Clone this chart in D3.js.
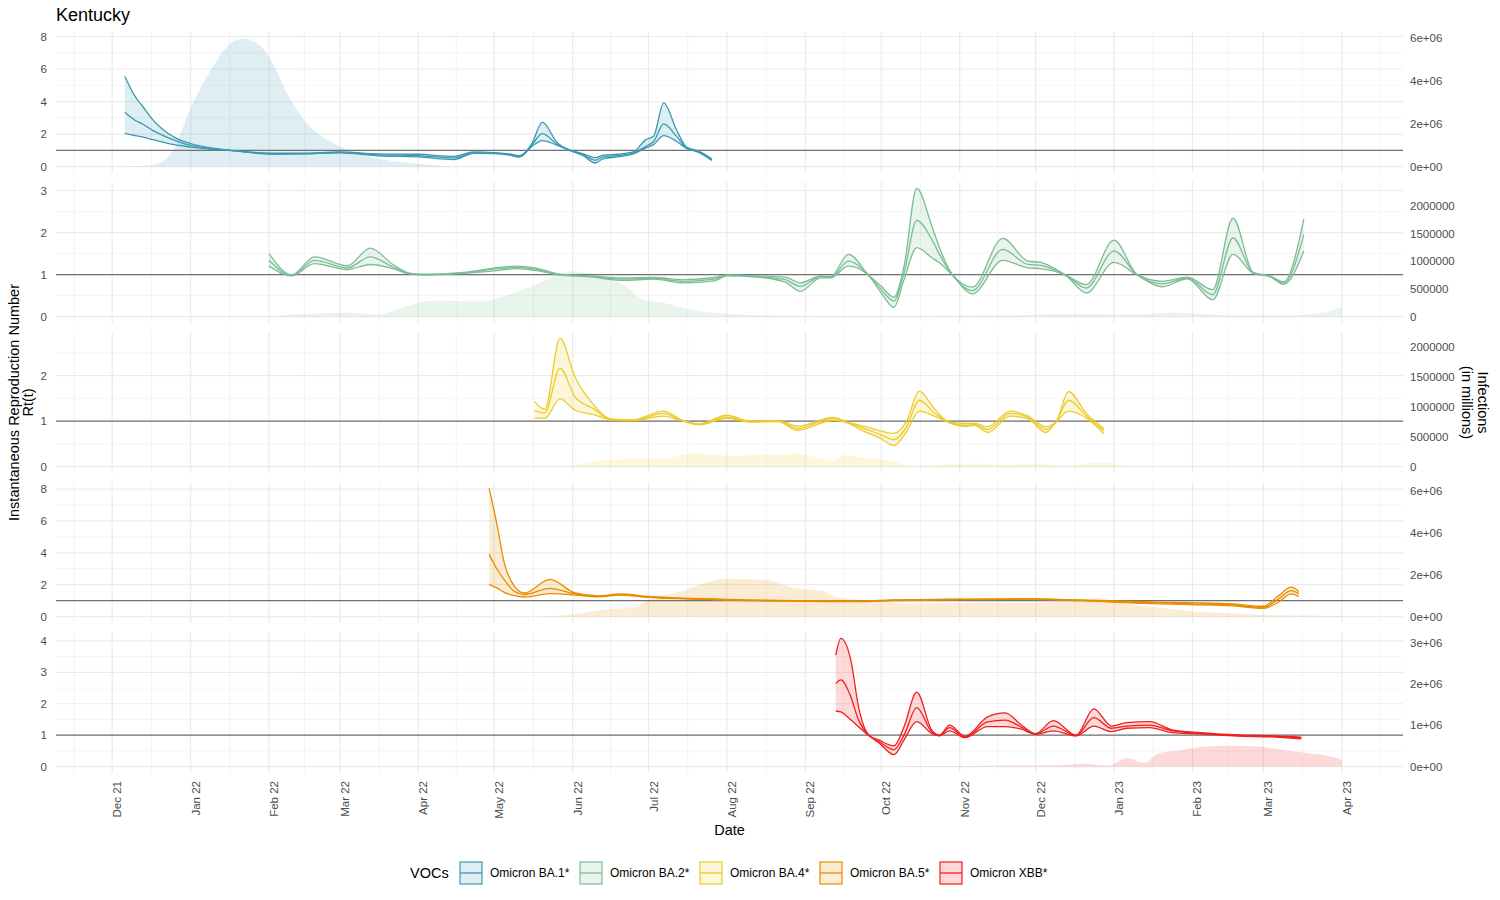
<!DOCTYPE html>
<html lang="en">
<head>
<meta charset="utf-8">
<title>Kentucky - Rt(t) by VOC</title>
<script src="https://d3js.org/d3.v7.min.js"></script>
<style>
  body { margin: 0; background: #fff; font-family: "Liberation Sans", Arial, sans-serif; }
  .tick { font-size: 11.5px; fill: #4d4d4d; }
  .title { font-size: 18px; fill: #000; }
  .axis-title { font-size: 14.5px; fill: #000; }
  .legend-label { font-size: 12px; fill: #000; }
</style>
</head>
<body>
<div id="canvas"></div>
<script>
// ---- data ----
var vocs = ["Omicron BA.1*", "Omicron BA.2*", "Omicron BA.4*", "Omicron BA.5*", "Omicron XBB*"];

// BA.1
var ba1Dates = ["2021-12-06","2021-12-10","2021-12-13","2021-12-17","2021-12-21","2021-12-26","2022-01-01","2022-01-08","2022-01-17","2022-02-02","2022-02-15","2022-03-01","2022-03-16","2022-04-01","2022-04-15","2022-04-23","2022-05-01","2022-05-07","2022-05-11","2022-05-16","2022-05-20","2022-05-26","2022-05-31","2022-06-05","2022-06-10","2022-06-13","2022-06-19","2022-06-25","2022-06-30","2022-07-03","2022-07-07","2022-07-12","2022-07-16","2022-07-21","2022-07-26"];
var ba1Lower  = [2.05,1.91,1.83,1.66,1.5,1.33,1.2,1.08,0.98,0.76,0.78,0.84,0.66,0.6,0.43,0.82,0.8,0.7,0.58,1.25,1.6,1.3,0.98,0.68,0.22,0.48,0.6,0.78,1.15,1.35,1.91,1.56,1.12,0.86,0.38];
var ba1Median = [3.34,2.85,2.62,2.23,1.92,1.6,1.3,1.13,1.0,0.8,0.8,0.87,0.72,0.68,0.53,0.86,0.83,0.74,0.63,1.35,2.03,1.35,1.0,0.74,0.39,0.6,0.68,0.84,1.25,1.54,2.63,1.87,1.15,0.9,0.43];
var ba1Upper  = [5.56,4.33,3.71,2.89,2.28,1.77,1.42,1.18,1.0,0.83,0.82,0.9,0.78,0.76,0.63,0.9,0.86,0.78,0.68,1.45,2.73,1.45,1.02,0.8,0.55,0.7,0.76,0.9,1.66,1.87,3.92,2.28,1.2,0.94,0.48];
var ba1InfDates = ["2021-12-03","2021-12-16","2021-12-22","2021-12-26","2021-12-31","2022-01-05","2022-01-10","2022-01-15","2022-01-19","2022-01-22","2022-01-27","2022-01-31","2022-02-04","2022-02-08","2022-02-12","2022-02-17","2022-02-22","2022-03-01","2022-03-09","2022-03-18","2022-04-01","2022-04-14","2022-04-25"];
var ba1Inf = [0,60000,330000,950000,2430000,3680000,4690000,5550000,5900000,5990000,5780000,5320000,4450000,3440000,2660000,1880000,1420000,950000,560000,330000,130000,15000,0];

// BA.2
var ba2Dates = ["2022-02-01","2022-02-10","2022-02-19","2022-03-04","2022-03-13","2022-03-22","2022-03-29","2022-04-05","2022-04-19","2022-05-03","2022-05-10","2022-05-17","2022-05-27","2022-06-07","2022-06-21","2022-07-03","2022-07-15","2022-07-27","2022-08-01","2022-08-13","2022-08-24","2022-08-30","2022-09-07","2022-09-11","2022-09-18","2022-09-26","2022-10-01","2022-10-06","2022-10-10","2022-10-15","2022-10-21","2022-10-24","2022-10-29","2022-11-06","2022-11-18","2022-11-28","2022-12-03","2022-12-13","2022-12-21","2023-01-01","2023-01-10","2023-01-20","2023-01-30","2023-02-09","2023-02-17","2023-02-25","2023-03-04","2023-03-09","2023-03-17"];
var ba2Lower  = [1.2,0.97,1.26,1.12,1.24,1.14,1.01,0.99,1.03,1.1,1.14,1.1,0.99,0.95,0.86,0.89,0.8,0.85,0.97,0.94,0.82,0.6,0.92,0.92,1.2,0.97,0.56,0.22,0.88,1.64,1.4,1.28,0.99,0.54,1.34,1.16,1.14,0.97,0.56,1.29,0.99,0.71,0.9,0.4,1.48,1.03,0.94,0.77,1.56];
var ba2Median = [1.34,0.98,1.34,1.16,1.42,1.18,1.02,1.0,1.04,1.14,1.17,1.13,1.0,0.96,0.89,0.91,0.84,0.89,0.98,0.95,0.88,0.72,0.95,0.93,1.32,0.98,0.64,0.37,1.04,2.29,1.83,1.48,1.0,0.62,1.6,1.24,1.22,0.98,0.68,1.56,1.0,0.78,0.92,0.52,1.87,1.04,0.95,0.8,1.95];
var ba2Upper  = [1.5,0.99,1.42,1.21,1.63,1.24,1.03,1.01,1.05,1.17,1.2,1.16,1.01,0.97,0.92,0.93,0.88,0.93,0.99,0.97,0.94,0.8,0.97,0.95,1.48,0.99,0.72,0.46,1.2,3.05,2.15,1.64,1.01,0.7,1.86,1.32,1.29,0.99,0.76,1.82,1.01,0.84,0.94,0.64,2.34,1.05,0.96,0.83,2.32];
var ba2InfDates = ["2022-02-01","2022-03-04","2022-03-16","2022-03-25","2022-04-01","2022-04-08","2022-04-25","2022-05-03","2022-05-17","2022-05-27","2022-06-01","2022-06-07","2022-06-14","2022-06-22","2022-06-29","2022-07-07","2022-07-15","2022-08-01","2022-08-30","2022-09-26","2022-10-20","2022-11-20","2022-12-17","2023-01-10","2023-01-25","2023-02-15","2023-03-10","2023-03-25","2023-04-01"];
var ba2Inf = [8000,68000,38000,152000,251000,289000,274000,342000,570000,775000,821000,783000,722000,547000,304000,251000,152000,53000,15000,8000,15000,23000,53000,38000,68000,23000,23000,76000,167000];

// BA.4
var ba4Dates = ["2022-05-17","2022-05-21","2022-05-27","2022-06-02","2022-06-09","2022-06-16","2022-06-25","2022-07-07","2022-07-14","2022-07-21","2022-08-01","2022-08-10","2022-08-21","2022-08-29","2022-09-12","2022-09-17","2022-09-24","2022-10-01","2022-10-06","2022-10-11","2022-10-16","2022-10-22","2022-10-28","2022-11-03","2022-11-07","2022-11-12","2022-11-21","2022-11-28","2022-12-05","2022-12-09","2022-12-14","2022-12-21","2022-12-28"];
var ba4Lower  = [1.07,1.06,1.49,1.24,1.15,1.03,1.01,1.11,1.01,0.92,1.06,0.98,0.99,0.8,1.02,0.97,0.78,0.61,0.46,0.77,1.22,1.11,0.96,0.88,0.91,0.75,1.11,1.05,0.75,0.97,1.22,1.07,0.72];
var ba4Median = [1.23,1.18,2.16,1.53,1.28,1.04,1.02,1.17,1.02,0.93,1.09,0.99,1.0,0.84,1.06,0.98,0.84,0.7,0.59,0.88,1.46,1.18,0.97,0.91,0.93,0.82,1.17,1.08,0.82,0.98,1.46,1.12,0.79];
var ba4Upper  = [1.43,1.26,2.82,1.96,1.38,1.05,1.03,1.22,1.03,0.94,1.13,1.0,1.01,0.89,1.08,0.99,0.89,0.78,0.73,1.0,1.66,1.27,0.98,0.95,0.95,0.88,1.22,1.11,0.88,0.99,1.65,1.17,0.84];
var ba4InfDates = ["2022-05-21","2022-06-01","2022-06-09","2022-06-16","2022-06-25","2022-07-07","2022-07-18","2022-07-27","2022-08-06","2022-08-13","2022-08-21","2022-08-29","2022-09-05","2022-09-12","2022-09-17","2022-09-25","2022-10-01","2022-10-08","2022-10-13","2022-10-25","2022-11-05","2022-11-20","2022-12-01","2022-12-12","2022-12-28","2023-01-05","2023-01-10"];
var ba4Inf = [0,23000,91000,114000,122000,129000,220000,198000,175000,205000,190000,220000,152000,91000,198000,137000,122000,61000,8000,30000,53000,30000,46000,15000,68000,15000,0];

// BA.5
var ba5Dates = ["2022-04-29","2022-05-02","2022-05-05","2022-05-09","2022-05-13","2022-05-23","2022-06-02","2022-06-11","2022-06-20","2022-07-01","2022-07-18","2022-08-09","2022-08-31","2022-09-22","2022-10-05","2022-11-04","2022-11-27","2022-12-19","2023-01-09","2023-01-31","2023-02-17","2023-03-01","2023-03-07","2023-03-12","2023-03-15"];
var ba5Lower  = [2.0,1.8,1.52,1.31,1.23,1.44,1.35,1.24,1.35,1.2,1.1,1.0,0.96,0.94,1.0,1.06,1.08,1.0,0.85,0.75,0.67,0.52,0.9,1.42,1.27];
var ba5Median = [3.9,3.0,2.3,1.58,1.38,1.77,1.42,1.27,1.38,1.23,1.12,1.02,0.98,0.96,1.02,1.08,1.1,1.02,0.9,0.81,0.73,0.58,1.1,1.63,1.44];
var ba5Upper  = [8.04,5.85,3.35,1.9,1.48,2.33,1.48,1.3,1.42,1.26,1.14,1.04,1.0,0.98,1.04,1.1,1.12,1.04,0.95,0.87,0.79,0.65,1.3,1.85,1.58];
var ba5InfDates = ["2022-05-20","2022-06-01","2022-06-16","2022-06-25","2022-07-01","2022-07-14","2022-07-25","2022-07-31","2022-08-09","2022-08-18","2022-08-24","2022-09-02","2022-09-07","2022-09-13","2022-09-22","2022-10-01","2022-10-10","2022-11-05","2022-11-27","2022-12-14","2022-12-27","2023-01-05","2023-01-20","2023-01-31","2023-02-17","2023-03-04","2023-03-28","2023-04-01"];
var ba5Inf = [0,99000,365000,410000,806000,1200000,1672000,1809000,1786000,1725000,1474000,1284000,1254000,935000,806000,722000,616000,646000,646000,730000,889000,616000,410000,251000,144000,61000,46000,38000];

// XBB
var xbbDates = ["2022-09-13","2022-09-15","2022-09-19","2022-09-22","2022-09-26","2022-09-30","2022-10-06","2022-10-10","2022-10-15","2022-10-21","2022-10-24","2022-10-28","2022-11-03","2022-11-12","2022-11-19","2022-11-25","2022-12-01","2022-12-08","2022-12-17","2022-12-24","2022-12-31","2023-01-06","2023-01-15","2023-01-24","2023-02-04","2023-02-19","2023-03-06","2023-03-16"];
var xbbLower  = [1.77,1.74,1.48,1.27,0.99,0.76,0.38,0.85,1.43,1.05,0.98,1.14,0.92,1.27,1.27,1.2,1.03,1.14,0.98,1.29,1.11,1.22,1.24,1.08,1.04,0.97,0.94,0.88];
var xbbMedian = [2.64,2.76,2.21,1.48,1.0,0.8,0.54,1.0,1.88,1.1,0.99,1.24,0.94,1.42,1.48,1.27,1.04,1.29,0.99,1.56,1.22,1.29,1.32,1.14,1.06,0.99,0.96,0.91];
var xbbUpper  = [3.55,4.08,3.37,1.9,1.01,0.85,0.66,1.27,2.37,1.15,1.0,1.32,0.96,1.58,1.71,1.35,1.05,1.46,1.0,1.84,1.29,1.4,1.43,1.17,1.08,1.01,0.98,0.94];
var xbbInfDates = ["2022-09-13","2022-10-15","2022-11-15","2022-12-10","2022-12-20","2022-12-30","2023-01-06","2023-01-13","2023-01-19","2023-01-27","2023-02-04","2023-02-16","2023-02-27","2023-03-06","2023-03-18","2023-03-27","2023-04-01"];
var xbbInf = [0,8000,23000,30000,68000,23000,205000,91000,327000,388000,471000,502000,486000,426000,327000,251000,167000];

// axis ticks per panel
var leftTicks = [[0,2,4,6,8],[0,1,2,3],[0,1,2],[0,2,4,6,8],[0,1,2,3,4]];
var rightTicks = [[0,2e6,4e6,6e6],[0,5e5,1e6,1.5e6,2e6],[0,5e5,1e6,1.5e6,2e6],[0,2e6,4e6,6e6],[0,1e6,2e6,3e6]];
var rightLabels = [
    ["0e+00","2e+06","4e+06","6e+06"],
    ["0","500000","1000000","1500000","2000000"],
    ["0","500000","1000000","1500000","2000000"],
    ["0e+00","2e+06","4e+06","6e+06"],
    ["0e+00","1e+06","2e+06","3e+06"]
];

// secondary axis: infections = Rt * K
var K = 760000;

// ---- styles ----
var colors = ["#3B9AB2", "#7DBD96", "#EBCC2A", "#EA8C00", "#F21E1E"];
var fillOpacity = 0.17;

var parse = d3.timeParse("%Y-%m-%d");

function pack(dates, lo, med, hi, infDates, inf) {
    return {
        rt: dates.map(function(d, i) { return {date: parse(d), lo: lo[i], med: med[i], hi: hi[i]}; }),
        inf: infDates.map(function(d, i) { return {date: parse(d), v: inf[i]}; })
    };
}

var panels = [
    pack(ba1Dates, ba1Lower, ba1Median, ba1Upper, ba1InfDates, ba1Inf),
    pack(ba2Dates, ba2Lower, ba2Median, ba2Upper, ba2InfDates, ba2Inf),
    pack(ba4Dates, ba4Lower, ba4Median, ba4Upper, ba4InfDates, ba4Inf),
    pack(ba5Dates, ba5Lower, ba5Median, ba5Upper, ba5InfDates, ba5Inf),
    pack(xbbDates, xbbLower, xbbMedian, xbbUpper, xbbInfDates, xbbInf)
];

var W = 1500, H = 900;
var plot = {left: 56, right: 1403, top: 32, panelH: 141, gap: 9};

var svg = d3.select("#canvas")
    .append("svg")
    .attr("width", W)
    .attr("height", H)
    .style("display", "block")
    .style("background", "#fff");

// x scale, 5% expansion like ggplot
var allDates = [];
panels.forEach(function(p) {
    p.rt.forEach(function(d) { allDates.push(d.date); });
    p.inf.forEach(function(d) { allDates.push(d.date); });
});
var ext = d3.extent(allDates);
var span = ext[1] - ext[0];
var x = d3.scaleTime()
    .domain([new Date(+ext[0] - span * 0.05), new Date(+ext[1] + span * 0.05)])
    .range([plot.left, plot.right]);

var dom = x.domain();
var months = d3.timeMonth.range(d3.timeMonth.offset(d3.timeMonth.floor(dom[0]), -1), d3.timeMonth.offset(dom[1], 1));
var majorX = months.filter(function(m) { return m >= dom[0] && m <= dom[1]; });
var minorX = [];
for (var i = 0; i < months.length - 1; i++) {
    var mid = new Date((+months[i] + +months[i + 1]) / 2);
    if (mid >= dom[0] && mid <= dom[1]) minorX.push(mid);
}

panels.forEach(function(p, i) {
    var top = plot.top + i * (plot.panelH + plot.gap),
        bottom = top + plot.panelH;

    var maxV = Math.max(d3.max(p.rt, function(d) { return d.hi; }), d3.max(p.inf, function(d) { return d.v; }) / K);
    var pad = maxV * 0.05;
    var y = d3.scaleLinear().domain([-pad, maxV + pad]).range([bottom, top]);

    var g = svg.append("g");

    // minor grid
    var ticks = leftTicks[i];
    var step = ticks[1] - ticks[0];
    var minorY = [];
    for (var v = ticks[0] - step / 2; v <= ticks[ticks.length - 1] + step; v += step) {
        if (v >= y.domain()[0] && v <= y.domain()[1]) minorY.push(v);
    }
    g.selectAll(".minory").data(minorY).enter().append("line")
        .attr("x1", plot.left).attr("x2", plot.right)
        .attr("y1", function(d) { return y(d); }).attr("y2", function(d) { return y(d); })
        .attr("stroke", "#ededed").attr("stroke-width", 0.6);
    g.selectAll(".minorx").data(minorX).enter().append("line")
        .attr("x1", function(d) { return x(d); }).attr("x2", function(d) { return x(d); })
        .attr("y1", top).attr("y2", bottom)
        .attr("stroke", "#ededed").attr("stroke-width", 0.6);

    // major grid
    g.selectAll(".majory").data(ticks).enter().append("line")
        .attr("x1", plot.left).attr("x2", plot.right)
        .attr("y1", function(d) { return y(d); }).attr("y2", function(d) { return y(d); })
        .attr("stroke", "#ebebeb").attr("stroke-width", 1.2);
    g.selectAll(".majorx").data(majorX).enter().append("line")
        .attr("x1", function(d) { return x(d); }).attr("x2", function(d) { return x(d); })
        .attr("y1", top).attr("y2", bottom)
        .attr("stroke", "#ebebeb").attr("stroke-width", 1.2);

    // infections area (secondary axis)
    var area = d3.area()
        .x(function(d) { return x(d.date); })
        .y0(y(0))
        .y1(function(d) { return y(d.v / K); })
        .curve(d3.curveMonotoneX);
    g.append("path").datum(p.inf)
        .attr("d", area)
        .attr("fill", colors[i])
        .attr("fill-opacity", fillOpacity);

    // Rt ribbon
    var ribbon = d3.area()
        .x(function(d) { return x(d.date); })
        .y0(function(d) { return y(d.lo); })
        .y1(function(d) { return y(d.hi); })
        .curve(d3.curveMonotoneX);
    g.append("path").datum(p.rt)
        .attr("d", ribbon)
        .attr("fill", colors[i])
        .attr("fill-opacity", fillOpacity);

    // reference line at Rt = 1
    g.append("line")
        .attr("x1", plot.left).attr("x2", plot.right)
        .attr("y1", y(1)).attr("y2", y(1))
        .attr("stroke", "#707070").attr("stroke-width", 1.2);

    ["lo", "med", "hi"].forEach(function(k) {
        var line = d3.line()
            .x(function(d) { return x(d.date); })
            .y(function(d) { return y(d[k]); })
            .curve(d3.curveMonotoneX);
        g.append("path").datum(p.rt)
            .attr("d", line)
            .attr("fill", "none")
            .attr("stroke", colors[i])
            .attr("stroke-width", 1.3);
    });

    // left axis labels
    g.selectAll(".ly").data(ticks).enter().append("text")
        .attr("class", "tick")
        .attr("x", plot.left - 9)
        .attr("y", function(d) { return y(d); })
        .attr("dy", "0.35em")
        .attr("text-anchor", "end")
        .text(function(d) { return d; });

    // right axis labels
    var y2 = d3.scaleLinear().domain([y.domain()[0] * K, y.domain()[1] * K]).range(y.range());
    g.selectAll(".ry").data(rightTicks[i]).enter().append("text")
        .attr("class", "tick")
        .attr("x", plot.right + 7)
        .attr("y", function(d) { return y2(d); })
        .attr("dy", "0.35em")
        .text(function(d, j) { return rightLabels[i][j]; });
});

// x axis labels under last panel
var axisTop = plot.top + 5 * plot.panelH + 4 * plot.gap + 8;
var fmt = d3.timeFormat("%b %y");
svg.selectAll(".xl").data(majorX).enter().append("text")
    .attr("class", "tick")
    .attr("text-anchor", "end")
    .attr("transform", function(d) { return "translate(" + (x(d) + 9) + "," + axisTop + ") rotate(-90)"; })
    .text(function(d) { return fmt(d); });

// titles
svg.append("text").attr("class", "title").attr("x", plot.left).attr("y", 21).text("Kentucky");

svg.append("text").attr("class", "axis-title")
    .attr("x", (plot.left + plot.right) / 2).attr("y", 835)
    .attr("text-anchor", "middle").text("Date");

var midY = plot.top + (5 * plot.panelH + 4 * plot.gap) / 2;
svg.append("text").attr("class", "axis-title")
    .attr("text-anchor", "middle")
    .attr("transform", "translate(19," + midY + ") rotate(-90)")
    .text("Instantaneous Reproduction Number");
svg.append("text").attr("class", "axis-title")
    .attr("text-anchor", "middle")
    .attr("transform", "translate(33," + midY + ") rotate(-90)")
    .text("Rt(t)");

svg.append("text").attr("class", "axis-title")
    .attr("text-anchor", "middle")
    .attr("transform", "translate(1478," + midY + ") rotate(90)")
    .text("Infections");
svg.append("text").attr("class", "axis-title")
    .attr("text-anchor", "middle")
    .attr("transform", "translate(1462," + midY + ") rotate(90)")
    .text("(in millions)");

// legend
var legend = svg.append("g").attr("transform", "translate(410,873)");
legend.append("text").attr("class", "axis-title").attr("x", 0).attr("dy", "0.35em").text("VOCs");
var items = legend.selectAll(".item").data(vocs).enter().append("g")
    .attr("transform", function(d, i) { return "translate(" + (50 + i * 120) + ",0)"; });
items.append("rect")
    .attr("x", 0).attr("y", -11).attr("width", 22).attr("height", 22)
    .attr("fill", function(d, i) { return colors[i]; })
    .attr("fill-opacity", fillOpacity)
    .attr("stroke", function(d, i) { return colors[i]; })
    .attr("stroke-width", 1.2);
items.append("line")
    .attr("x1", 0).attr("x2", 22).attr("y1", 0).attr("y2", 0)
    .attr("stroke", function(d, i) { return colors[i]; })
    .attr("stroke-width", 1.3);
items.append("text")
    .attr("class", "legend-label")
    .attr("x", 30).attr("dy", "0.35em")
    .text(function(d) { return d; });
</script>
</body>
</html>
